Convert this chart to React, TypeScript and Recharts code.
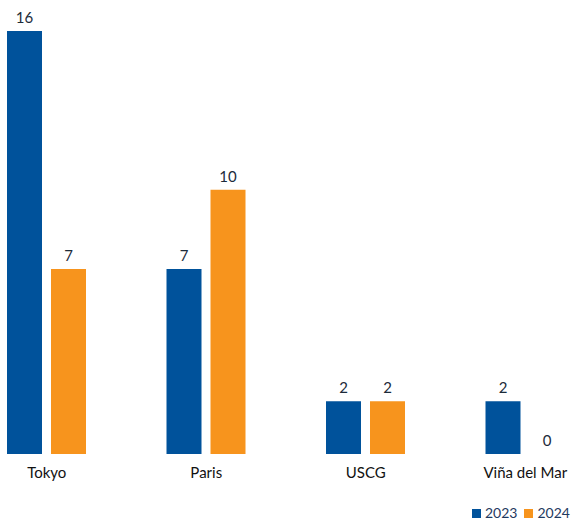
import React from 'react';
import { Bar, BarChart, LabelList, XAxis, YAxis } from 'recharts';

const cities = ['Tokyo', 'Paris', 'USCG', 'Viña del Mar'];
const values2023 = [16, 7, 2, 2];
const values2024 = [7, 10, 2, 0];
const seriesNames = ['2023', '2024'];
const colors = ['#00529b', '#f7941d'];

const data = cities.map((city, i) => ({
  city,
  y2023: values2023[i],
  y2024: values2024[i],
}));

const font = 'Lato, "Open Sans", sans-serif';
const labelStyle = { fill: '#1c2b3a', fontSize: 15, fontFamily: font };

// zero-valued bars still need their "0" label, so give them a hair of height
const tinyForZero = (value: any) => (value === 0 ? 0.01 : 0);

const App = () => {
  return (
    <div
      style={{
        position: 'fixed',
        left: 0,
        top: 0,
        width: 573,
        height: 522,
        overflow: 'hidden',
        background: '#fff',
        fontFamily: font,
      }}
    >
      <div style={{ position: 'absolute', left: -33, top: 0 }}>
        <BarChart
          width={638}
          height={522}
          data={data}
          margin={{ top: 31, right: 0, left: 0, bottom: 38 }}
          barSize={35}
          barGap={9}
        >
          <XAxis
            dataKey="city"
            axisLine={false}
            tickLine={false}
            tickMargin={7}
            height={30}
            interval={0}
            tick={{ fill: '#111', fontSize: 15, fontFamily: font }}
          />
          <YAxis hide domain={[0, 16]} />
          <Bar
            dataKey="y2023"
            fill={colors[0]}
            minPointSize={tinyForZero}
            isAnimationActive={false}
          >
            <LabelList dataKey="y2023" position="top" offset={8} style={labelStyle} />
          </Bar>
          <Bar
            dataKey="y2024"
            fill={colors[1]}
            minPointSize={tinyForZero}
            isAnimationActive={false}
          >
            <LabelList dataKey="y2024" position="top" offset={8} style={labelStyle} />
          </Bar>
        </BarChart>
      </div>
      <div
        style={{
          position: 'absolute',
          left: 472,
          top: 505,
          display: 'flex',
          gap: 7,
          fontSize: 14,
          color: '#1f3a5f',
          lineHeight: '16px',
        }}
      >
        {seriesNames.map((name, i) => (
          <span key={name} style={{ display: 'flex', alignItems: 'center' }}>
            <span
              style={{
                display: 'inline-block',
                width: 9,
                height: 9,
                background: colors[i],
                marginRight: 4,
              }}
            />
            {name}
          </span>
        ))}
      </div>
    </div>
  );
};

export default App;
